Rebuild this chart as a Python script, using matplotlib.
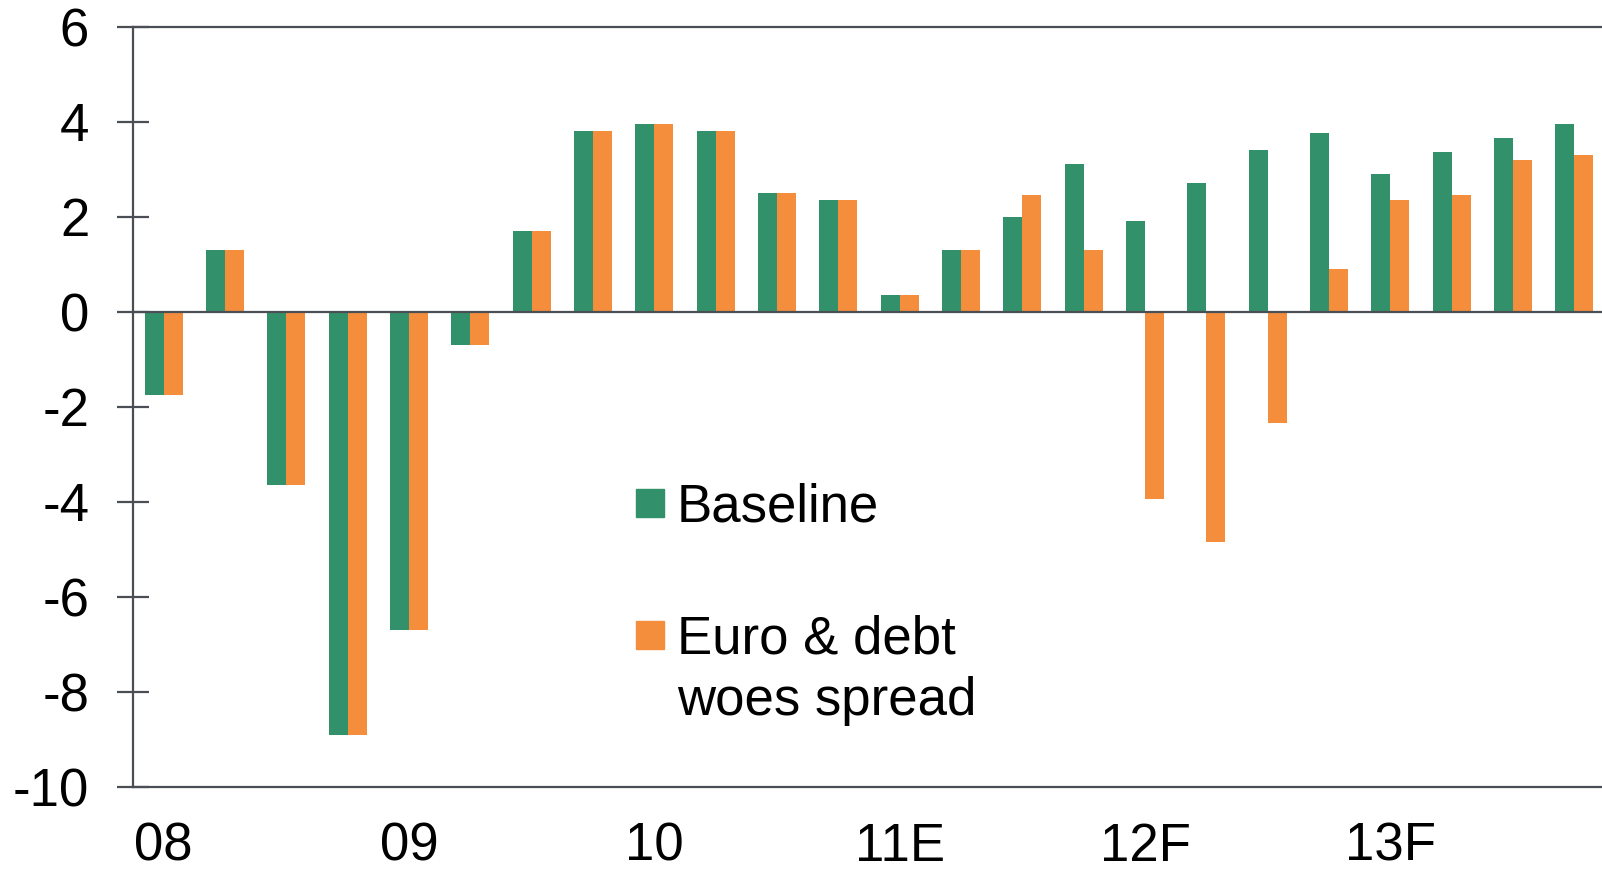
import numpy as np
import matplotlib.pyplot as plt
from matplotlib.patches import Rectangle

plt.rcParams['font.family'] = ['Liberation Sans', 'DejaVu Sans']

# Quarterly data, 2008 Q1 to 2013 Q4
quarters = ['08', '', '', '', '09', '', '', '', '10', '', '', '',
            '11E', '', '', '', '12F', '', '', '', '13F', '', '', '']
baseline = [-1.75, 1.3, -3.65, -8.9, -6.7, -0.7, 1.7, 3.8,
            3.95, 3.8, 2.5, 2.35, 0.35, 1.3, 2.0, 3.1,
            1.9, 2.7, 3.4, 3.75, 2.9, 3.35, 3.65, 3.95]
euro_woes = [-1.75, 1.3, -3.65, -8.9, -6.7, -0.7, 1.7, 3.8,
             3.95, 3.8, 2.5, 2.35, 0.35, 1.3, 2.45, 1.3,
             -3.95, -4.85, -2.35, 0.9, 2.35, 2.45, 3.2, 3.3]
yticks = [-10, -8, -6, -4, -2, 0, 2, 4, 6]

green = '#32916A'
orange = '#F48D3C'
axcol = '#4a4f55'
fs = 38

fig = plt.figure(figsize=(16.02, 8.73), dpi=100)
ax = fig.add_axes([0.083, 0.0985, 1.0019 - 0.083, 0.9696 - 0.0985])

x = np.arange(len(quarters))
w = 0.31
ax.bar(x - w / 2, baseline, w, color=green)
ax.bar(x + w / 2, euro_woes, w, color=orange)
ax.axhline(0, color=axcol, lw=1.6, zorder=3)

ax.set_xlim(-0.5, len(quarters) - 0.5)
ax.set_ylim(-10, 6)
ax.set_yticks(yticks)
ax.set_yticklabels([str(t) for t in yticks], fontsize=fs)
ax.set_xticks(x)
ax.set_xticklabels(quarters, fontsize=fs)
ax.tick_params(axis='x', length=0, pad=25)
ax.tick_params(axis='y', direction='inout', length=23, width=1.6,
               color=axcol, pad=20)

for s in ['top', 'bottom', 'left']:
    ax.spines[s].set_color(axcol)
    ax.spines[s].set_linewidth(1.6)
ax.spines['right'].set_visible(False)

# legend drawn by hand so the swatch sits at the first line of the label
sw, sh = 0.019, 0.0368
ax.add_patch(Rectangle((0.3417, 0.355), sw, sh, color=green,
                       transform=ax.transAxes, clip_on=False))
ax.add_patch(Rectangle((0.3417, 0.1815), sw, sh, color=orange,
                       transform=ax.transAxes, clip_on=False))
ax.text(0.3696, 0.3485, 'Baseline', fontsize=fs, va='baseline',
        transform=ax.transAxes)
ax.text(0.3696, 0.1762, 'Euro & debt', fontsize=fs, va='baseline',
        transform=ax.transAxes)
ax.text(0.3696, 0.0945, 'woes spread', fontsize=fs, va='baseline',
        transform=ax.transAxes)

fig.savefig('out.png', dpi=100)
